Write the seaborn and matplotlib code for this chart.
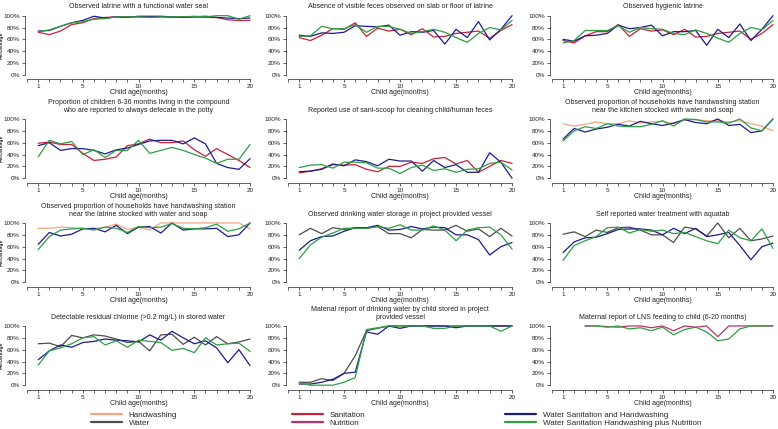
import pandas as pd
import seaborn as sns
import matplotlib.pyplot as plt
from matplotlib.lines import Line2D

# child age in months
months = list(range(1, 21))
lns_months = list(range(3, 21))

# arm colours
arm_colors = {
    "Handwashing": "#F4A582",
    "Water": "#4D4D4D",
    "Sanitation": "#CC1F3A",
    "Nutrition": "#C0306A",
    "Water Sanitation and Handwashing": "#1C1C8C",
    "Water Sanitation Handwashing plus Nutrition": "#2F9E44",
}

# 1 functional water seal
seal_san = [72, 68, 74, 85, 88, 95, 97, 98, 98, 98, 97, 98, 97, 98, 98, 97, 97, 93, 92, 92]
seal_wsh = [74, 75, 82, 88, 92, 99, 96, 98, 97, 99, 99, 99, 98, 97, 98, 99, 97, 96, 95, 96]
seal_wshn = [73, 76, 82, 88, 90, 94, 95, 98, 98, 98, 97, 98, 98, 98, 99, 98, 100, 100, 94, 100]

# 2 no visible feces
feces_san = [63, 58, 67, 78, 77, 88, 65, 79, 74, 77, 68, 78, 64, 65, 70, 72, 74, 62, 75, 85]
feces_wsh = [67, 65, 71, 70, 72, 83, 82, 81, 84, 67, 73, 72, 75, 52, 77, 63, 90, 59, 77, 100]
feces_wshn = [65, 66, 82, 78, 78, 85, 72, 82, 82, 77, 70, 73, 77, 72, 63, 55, 70, 80, 76, 92]

# 3 hygienic latrine
hyg_san = [58, 54, 66, 73, 73, 85, 65, 78, 74, 76, 68, 77, 64, 65, 70, 72, 74, 60, 70, 85]
hyg_wsh = [60, 57, 66, 67, 70, 84, 78, 80, 84, 66, 73, 73, 75, 50, 77, 63, 86, 58, 77, 100]
hyg_wshn = [54, 58, 75, 75, 75, 83, 72, 80, 78, 77, 70, 68, 76, 70, 62, 55, 70, 80, 76, 92]

# 4 potty use
potty_san = [59, 61, 57, 57, 42, 30, 32, 36, 55, 58, 66, 60, 60, 63, 48, 37, 50, 40, 30, 18]
potty_wsh = [55, 60, 47, 50, 50, 47, 41, 48, 51, 57, 63, 64, 64, 58, 68, 58, 25, 18, 15, 33]
potty_wshn = [36, 64, 58, 62, 40, 48, 35, 47, 47, 64, 42, 47, 52, 47, 40, 34, 25, 32, 32, 57]

# 5 sani-scoop
scoop_san = [9, 12, 16, 23, 22, 23, 15, 11, 20, 20, 27, 25, 33, 35, 24, 30, 10, 20, 30, 25]
scoop_wsh = [11, 12, 15, 24, 21, 31, 28, 21, 32, 29, 29, 12, 30, 18, 23, 10, 10, 43, 27, 0]
scoop_wshn = [18, 22, 23, 17, 27, 27, 26, 17, 17, 8, 18, 22, 13, 16, 10, 15, 16, 25, 27, 14]

# 6 handwashing station near kitchen
kitchen_hw = [92, 88, 91, 95, 92, 92, 97, 93, 95, 96, 92, 98, 99, 97, 97, 95, 97, 92, 88, 80]
kitchen_wsh = [66, 84, 78, 83, 86, 91, 88, 96, 92, 89, 93, 99, 94, 92, 100, 89, 91, 77, 80, 100]
kitchen_wshn = [63, 80, 87, 84, 92, 88, 87, 87, 91, 97, 88, 100, 99, 95, 95, 93, 100, 85, 80, 100]

# 7 handwashing station near latrine
latrine_hw = [91, 91, 93, 92, 91, 90, 93, 98, 89, 93, 88, 100, 100, 100, 100, 100, 100, 100, 100, 90]
latrine_wsh = [64, 84, 78, 81, 90, 91, 85, 96, 82, 93, 94, 83, 100, 88, 90, 90, 91, 77, 80, 100]
latrine_wshn = [55, 77, 88, 90, 91, 88, 93, 91, 84, 94, 92, 93, 99, 91, 90, 92, 98, 86, 90, 100]

# 8 water storage
store_water = [80, 91, 82, 92, 89, 92, 91, 94, 82, 82, 75, 89, 88, 88, 96, 86, 90, 77, 91, 78]
store_wsh = [54, 70, 77, 78, 86, 92, 92, 96, 88, 89, 94, 90, 93, 92, 80, 80, 72, 46, 60, 67]
store_wshn = [40, 63, 76, 83, 91, 91, 91, 94, 91, 97, 88, 88, 95, 88, 70, 88, 92, 93, 80, 56]

# 9 aquatab
aqua_water = [81, 85, 77, 88, 84, 92, 93, 88, 80, 80, 67, 93, 90, 78, 100, 75, 91, 70, 73, 78]
aqua_wsh = [50, 68, 75, 76, 82, 89, 90, 90, 88, 80, 91, 82, 91, 77, 80, 84, 62, 38, 60, 66]
aqua_wshn = [37, 62, 70, 77, 92, 93, 83, 89, 86, 88, 82, 84, 77, 70, 65, 88, 75, 70, 90, 57]

# 10 residual chlorine
chlor_water = [70, 71, 65, 84, 80, 85, 83, 78, 72, 74, 58, 85, 86, 69, 81, 68, 82, 70, 73, 78]
chlor_wsh = [43, 58, 68, 64, 72, 74, 78, 76, 75, 73, 85, 76, 91, 80, 70, 75, 63, 38, 60, 33]
chlor_wshn = [34, 58, 63, 70, 80, 82, 68, 75, 64, 76, 74, 72, 59, 62, 55, 80, 68, 70, 71, 57]

# 11 maternal report child drinking water
child_water = [5, 5, 11, 8, 20, 50, 92, 96, 100, 100, 100, 100, 100, 100, 100, 100, 100, 100, 100, 100]
child_wsh = [2, 2, 5, 10, 20, 22, 90, 86, 100, 96, 100, 100, 100, 100, 97, 100, 100, 100, 100, 100]
child_wshn = [4, 0, 0, 0, 5, 13, 94, 97, 100, 100, 100, 100, 96, 96, 100, 100, 100, 100, 91, 100]

# 12 LNS feeding
lns_nut = [100, 100, 99, 98, 100, 100, 97, 100, 92, 100, 98, 100, 82, 100, 100, 100, 100, 100]
lns_wshn = [100, 100, 98, 100, 95, 97, 92, 98, 85, 94, 98, 90, 75, 78, 95, 100, 100, 100]

WSH = "Water Sanitation and Handwashing"
WSHN = "Water Sanitation Handwashing plus Nutrition"

panels = [
    ("Observed latrine with a functional water seal",
     {"Sanitation": seal_san, WSH: seal_wsh, WSHN: seal_wshn}, months),
    ("Absence of visible feces observed on slab or floor of latrine",
     {"Sanitation": feces_san, WSH: feces_wsh, WSHN: feces_wshn}, months),
    ("Observed hygienic latrine",
     {"Sanitation": hyg_san, WSH: hyg_wsh, WSHN: hyg_wshn}, months),
    ("Proportion of children 6-36 months living in the compound\nwho are reported to always defecate in the potty",
     {"Sanitation": potty_san, WSH: potty_wsh, WSHN: potty_wshn}, months),
    ("Reported use of sani-scoop for cleaning child/human feces",
     {"Sanitation": scoop_san, WSH: scoop_wsh, WSHN: scoop_wshn}, months),
    ("Observed proportion of households have handwashing station\nnear the kitchen stocked with water and soap",
     {"Handwashing": kitchen_hw, WSH: kitchen_wsh, WSHN: kitchen_wshn}, months),
    ("Observed proportion of households have handwashing station\nnear the latrine stocked with water and soap",
     {"Handwashing": latrine_hw, WSH: latrine_wsh, WSHN: latrine_wshn}, months),
    ("Observed drinking water storage in project provided vessel",
     {"Water": store_water, WSH: store_wsh, WSHN: store_wshn}, months),
    ("Self reported water treatment with aquatab",
     {"Water": aqua_water, WSH: aqua_wsh, WSHN: aqua_wshn}, months),
    ("Detectable residual chlorine (>0.2 mg/L) in stored water",
     {"Water": chlor_water, WSH: chlor_wsh, WSHN: chlor_wshn}, months),
    ("Matenal report of drinking water by child stored in project\nprovided vessel",
     {"Water": child_water, WSH: child_wsh, WSHN: child_wshn}, months),
    ("Maternal report of LNS feeding to child (6-20 months)",
     {"Nutrition": lns_nut, WSHN: lns_wshn}, lns_months),
]

sns.set_style("ticks")
plt.rcParams["font.family"] = ["Liberation Sans", "DejaVu Sans"]

W, H = 778, 429
fig = plt.figure(figsize=(W / 100, H / 100), dpi=100)

col_left = [24.8, 285.8, 549.8]
col_width = [227.5, 228.5, 225.4]
row_top = [13.3, 116.6, 220.6, 323.6]
ax_h = 64.0

for i, (title, series, xs) in enumerate(panels):
    r, c = divmod(i, 3)
    ax = fig.add_axes([col_left[c] / W, 1 - (row_top[r] + ax_h) / H,
                       col_width[c] / W, ax_h / H])
    rows = []
    for arm, vals in series.items():
        for m, v in zip(xs, vals):
            rows.append({"month": m, "pct": v, "arm": arm})
    df = pd.DataFrame(rows)
    sns.lineplot(data=df, x="month", y="pct", hue="arm", palette=arm_colors,
                 linewidth=0.9, legend=False, ax=ax)
    ax.set_xlim(-0.2, 20.2)
    ax.set_ylim(-4, 104)
    ax.set_xticks(range(21))
    ax.set_xticklabels([str(t) if t in (1, 5, 10, 15, 20) else "" for t in range(21)])
    ax.set_yticks(range(0, 101, 20))
    ax.set_yticklabels([f"{t}%" for t in range(0, 101, 20)])
    ax.tick_params(axis="both", length=2, width=0.5, pad=1.5,
                   labelsize=4.6, colors="#222222")
    sns.despine(ax=ax)
    ax.spines["bottom"].set_position(("outward", 1.5))
    ax.spines["bottom"].set_bounds(0, 20)
    ax.spines["left"].set_bounds(0, 100)
    for s in ("left", "bottom"):
        ax.spines[s].set_linewidth(0.5)
    ax.set_title(title, fontsize=5, pad=3.5, color="#222222", linespacing=1.1)
    ax.set_xlabel("Child age(months)", fontsize=5, labelpad=0, color="#222222")
    if c == 0:
        ax.set_ylabel("Percentage", fontsize=3.6, fontweight="bold")
        ax.yaxis.set_label_coords((4.0 - col_left[0]) / col_width[0], 0.5)
    else:
        ax.set_ylabel("")

# legend in three columns
legend_cols = [
    (["Handwashing", "Water"], 91),
    (["Sanitation", "Nutrition"], 292),
    ([WSH, WSHN], 505),
]
for names, xpx in legend_cols:
    handles = [Line2D([], [], color=arm_colors[n], linewidth=1.6) for n in names]
    fig.legend(handles, names, loc="upper left", bbox_to_anchor=(xpx / W, 1 - 411 / H),
               frameon=False, fontsize=5.8, handlelength=3.8, handletextpad=0.9,
               labelspacing=0.1, borderpad=0, borderaxespad=0)

fig.savefig("out.png", dpi=100)
